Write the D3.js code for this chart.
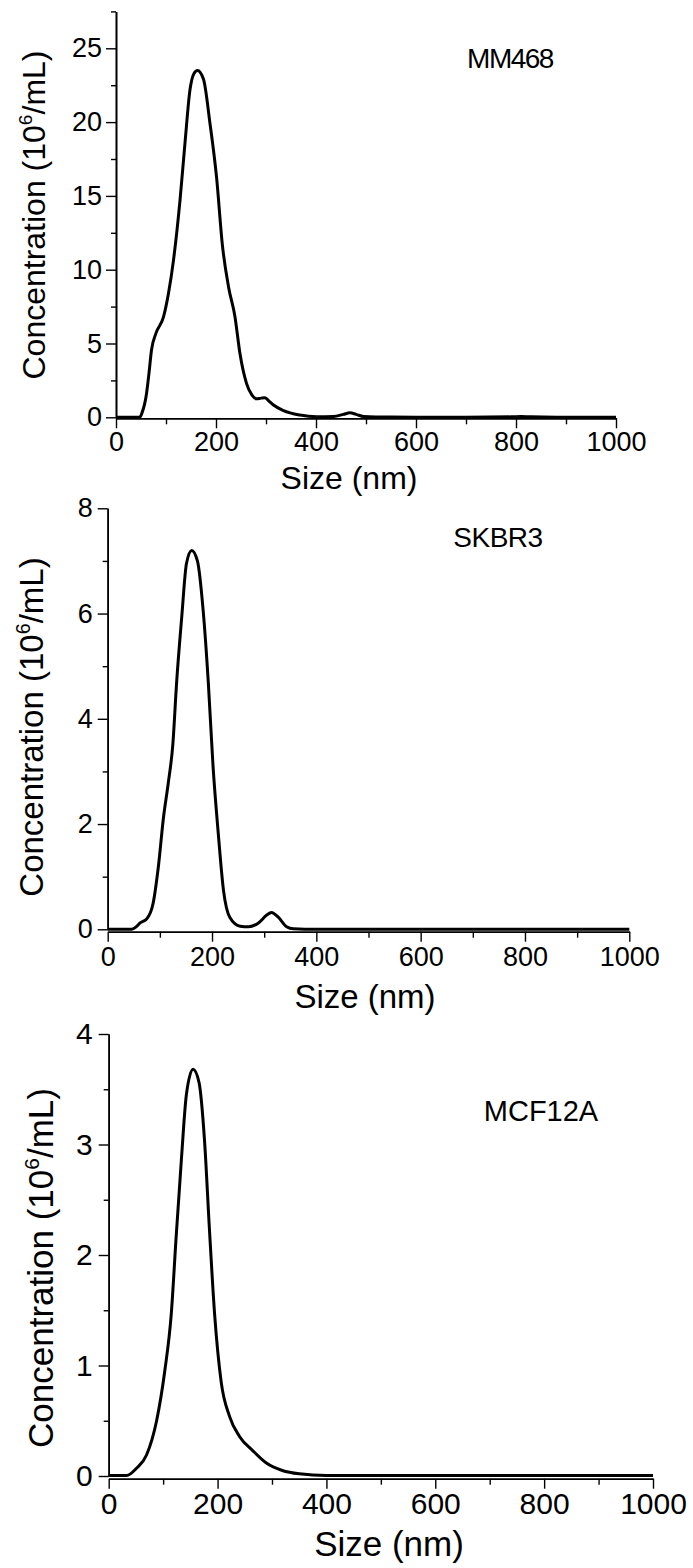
<!DOCTYPE html>
<html>
<head>
<meta charset="utf-8">
<script src="https://cdn.jsdelivr.net/npm/d3@7"></script>
<style>
  body { margin: 0; background: #fff; }
  svg { display: block; font-family: "Liberation Sans", Arial, sans-serif; }
</style>
</head>
<body>
<svg id="chart" width="693" height="1568"></svg>
<script>

var svg;

// MM468 distribution (size nm, concentration 10^6/mL)
var sizeMM468 = [0, 40, 48, 52, 61, 66, 71, 80, 95, 105, 115, 128, 138, 148, 156, 163, 175, 188, 201, 213, 225, 238, 248, 261, 272, 281, 290, 298, 306, 315, 335, 368, 401, 435, 455, 468, 480, 495, 520, 600, 700, 790, 810, 830, 900, 1000];
var concMM468 = [0, 0, 0.02, 0.3, 1.6, 3.0, 4.56, 5.7, 6.8, 8.4, 10.65, 14.7, 18.6, 22.2, 23.3, 23.5, 22.9, 19.9, 16.3, 11.6, 8.85, 6.8, 4.3, 2.3, 1.5, 1.25, 1.3, 1.33, 1.1, 0.83, 0.45, 0.15, 0.04, 0.06, 0.2, 0.3, 0.2, 0.05, 0.02, 0.01, 0.01, 0.03, 0.05, 0.03, 0.01, 0.01];

// SKBR3 distribution
var sizeSKBR3 = [0, 46, 55, 62, 75, 87, 97, 107, 116, 125, 132, 142, 151, 161, 172, 183, 193, 202, 212, 222, 234, 254, 270, 289, 305, 314, 327, 343, 356, 400, 1000];
var concSKBR3 = [0, 0, 0.05, 0.12, 0.2, 0.49, 1.18, 2.13, 2.77, 3.53, 4.67, 5.94, 6.95, 7.2, 7.0, 6.06, 4.67, 3.09, 1.82, 0.74, 0.23, 0.06, 0.05, 0.12, 0.27, 0.32, 0.23, 0.05, 0.01, 0, 0];

// MCF12A distribution
var sizeMCF12A = [0, 33, 51, 69.5, 88, 103, 115, 124, 133.5, 142.7, 155, 166, 176, 185, 194.5, 206.7, 222, 240, 264.5, 289, 319, 350, 400, 1000];
var concMCF12A = [0.005, 0.005, 0.07, 0.19, 0.5, 0.95, 1.47, 2.17, 2.86, 3.45, 3.68, 3.56, 3.04, 2.24, 1.47, 0.85, 0.54, 0.36, 0.23, 0.12, 0.05, 0.02, 0.005, 0.005];

// axis ticks
var xMajor = [0, 200, 400, 600, 800, 1000];
var xMinor = [100, 300, 500, 700, 900];
var yMajorMM468 = [0, 5, 10, 15, 20, 25];
var yMinorMM468 = [2.5, 7.5, 12.5, 17.5, 22.5, 27.5];
var yMajorSKBR3 = [0, 2, 4, 6, 8];
var yMinorSKBR3 = [1, 3, 5, 7];
var yMajorMCF12A = [0, 1, 2, 3, 4];
var yMinorMCF12A = [0.5, 1.5, 2.5, 3.5];

var panelNames = ["MM468", "SKBR3", "MCF12A"];


document.addEventListener('DOMContentLoaded', function () {
  svg = d3.select('#chart');

  drawPanel({
    name: panelNames[0], sizes: sizeMM468, conc: concMM468,
    yMax: 27.5, yMajor: yMajorMM468, yMinor: yMinorMM468,
    left: 116, right: 616, top: 11.4, bottom: 417.3, axisDrop: 1,
    tickFont: 27, labelFont: 32, titleFont: 28, titleSpacing: -1.5,
    ylabX: 45, ylabY: 215, xlabX: 349, xlabY: 489,
    titleX: 510, titleY: 68, xPad: 3.7, yPad: 4
  });

  drawPanel({
    name: panelNames[1], sizes: sizeSKBR3, conc: concSKBR3,
    yMax: 8, yMajor: yMajorSKBR3, yMinor: yMinorSKBR3,
    left: 107.7, right: 629.3, top: 508.3, bottom: 929.3, axisDrop: 2.4,
    tickFont: 27, labelFont: 33, titleFont: 28, titleSpacing: -0.5,
    ylabX: 43, ylabY: 727, xlabX: 365, xlabY: 1008,
    titleX: 498, titleY: 547, xPad: 5, yPad: 5
  });

  drawPanel({
    name: panelNames[2], sizes: sizeMCF12A, conc: concMCF12A,
    yMax: 4, yMajor: yMajorMCF12A, yMinor: yMinorMCF12A,
    left: 108.7, right: 653, top: 1034, bottom: 1476, axisDrop: 2.7,
    tickFont: 30, labelFont: 35, titleFont: 29, titleSpacing: 0,
    ylabX: 53, ylabY: 1268, xlabX: 389, xlabY: 1556,
    titleX: 541, titleY: 1121, xPad: 4, yPad: 6
  });
});


function drawPanel(p) {
  var x = d3.scaleLinear().domain([0, 1000]).range([p.left, p.right]);
  var y = d3.scaleLinear().domain([0, p.yMax]).range([p.bottom, p.top]);
  var fmt = function (d) { return String(d); };

  var g = svg.append("g");

  // x axis, major + minor ticks
  var xAxisY = p.bottom + p.axisDrop;
  g.append("g")
    .attr("transform", "translate(0," + xAxisY + ")")
    .call(d3.axisBottom(x).tickValues(xMinor).tickSize(6).tickSizeOuter(0).tickFormat(""));
  g.append("g")
    .attr("transform", "translate(0," + xAxisY + ")")
    .call(d3.axisBottom(x).tickValues(xMajor).tickSize(10).tickSizeOuter(0).tickPadding(p.xPad).tickFormat(fmt))
    .selectAll("text").attr("font-size", p.tickFont);

  // y axis
  g.append("g")
    .attr("transform", "translate(" + p.left + ",0)")
    .call(d3.axisLeft(y).tickValues(p.yMinor).tickSize(5).tickSizeOuter(0).tickFormat(""));
  g.append("g")
    .attr("transform", "translate(" + p.left + ",0)")
    .call(d3.axisLeft(y).tickValues(p.yMajor).tickSize(10).tickSizeOuter(0).tickPadding(p.yPad).tickFormat(fmt))
    .selectAll("text").attr("font-size", p.tickFont);

  g.selectAll(".domain").attr("stroke", "#000").attr("stroke-width", 1.6);
  g.selectAll(".tick line").attr("stroke", "#000").attr("stroke-width", 1.4);
  g.selectAll(".tick text").attr("fill", "#000").attr("font-family", "Liberation Sans, Arial, sans-serif");

  // distribution curve
  var pts = p.sizes.map(function (s, i) { return [s, p.conc[i]]; });
  var line = d3.line()
    .x(function (d) { return x(d[0]); })
    .y(function (d) { return y(d[1]); })
    .curve(d3.curveMonotoneX);
  g.append("path")
    .datum(pts)
    .attr("d", line)
    .attr("fill", "none")
    .attr("stroke", "#000")
    .attr("stroke-width", 3)
    .attr("stroke-linejoin", "round");

  // axis titles
  var yl = g.append("text")
    .attr("transform", "translate(" + p.ylabX + "," + p.ylabY + ") rotate(-90)")
    .attr("text-anchor", "middle")
    .attr("font-size", p.labelFont)
    .attr("fill", "#000");
  yl.append("tspan").text("Concentration (10");
  yl.append("tspan").text("6")
    .attr("font-size", p.labelFont * 0.6)
    .attr("dy", -p.labelFont * 0.4);
  yl.append("tspan").text("/mL)")
    .attr("dy", p.labelFont * 0.4);

  g.append("text")
    .attr("x", p.xlabX)
    .attr("y", p.xlabY)
    .attr("text-anchor", "middle")
    .attr("font-size", p.labelFont)
    .attr("fill", "#000")
    .text("Size (nm)");

  // sample name
  g.append("text")
    .attr("x", p.titleX)
    .attr("y", p.titleY)
    .attr("text-anchor", "middle")
    .attr("font-size", p.titleFont)
    .attr("letter-spacing", p.titleSpacing)
    .attr("fill", "#000")
    .text(p.name);
}

</script>
</body>
</html>
